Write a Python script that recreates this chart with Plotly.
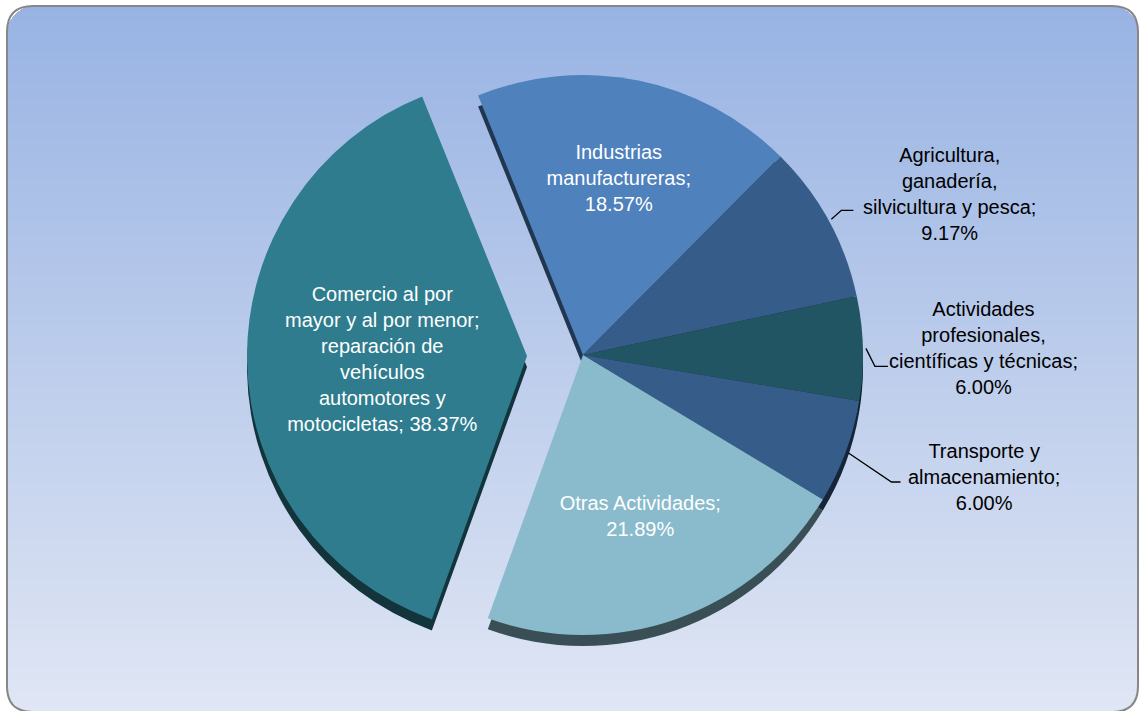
import math, zlib, struct, base64
import plotly.graph_objects as go

# ---- data ----
labels = [
    "Industrias manufactureras",
    "Agricultura, ganadería, silvicultura y pesca",
    "Actividades profesionales, científicas y técnicas",
    "Transporte y almacenamiento",
    "Otras Actividades",
    "Comercio al por mayor y al por menor; reparación de vehículos automotores y motocicletas",
]
values = [18.57, 9.17, 6.00, 6.00, 21.89, 38.37]
label_lines = [
    "Industrias<br>manufactureras;",
    "Agricultura,<br>ganadería,<br>silvicultura y pesca;",
    "Actividades<br>profesionales,<br>científicas y técnicas;",
    "Transporte y<br>almacenamiento;",
    "Otras Actividades;",
    "Comercio al por<br>mayor y al por menor;<br>reparación de<br>vehículos<br>automotores y<br>motocicletas;",
]
value_sep = ["<br>", "<br>", "<br>", "<br>", "<br>", " "]
colors = ["#4F81BD", "#365C8A", "#215563", "#365C8A", "#89BBCC", "#2E7C8E"]
pulls = [0, 0, 0, 0, 0, 0.2]
outside = [False, True, True, True, False, False]

# styling for outside labels: text offset (px) from slice edge, and leader elbow/end offsets
label_dx = [0, 118, 118, 136, 0, 0]
label_dy = [0, -25, 0, 24, 0, 0]
elbow = [None, (10, -9), (9, 18), (43, 29), None, None]
lead_end = [None, (22, -9), (22, 18), (52, 29), None, None]

W, H = 1141, 711
FONT = "Liberation Sans, Arial"
FS = 20

# ---- background gradient image with rounded corners ----
def make_bg(w, h, x0, y0, x1, y1, rad, top, bot):
    rows = []
    for y in range(h):
        t = min(max((y - y0) / (y1 - y0), 0), 1)
        c = bytes(int(round(top[i] + (bot[i] - top[i]) * t)) for i in range(3))
        row = bytearray(b"\x00")
        for x in range(w):
            inside = x0 <= x <= x1 and y0 <= y <= y1
            if inside:
                cx = None
                if x < x0 + rad and y < y0 + rad:
                    cx, cy = x0 + rad, y0 + rad
                elif x > x1 - rad and y < y0 + rad:
                    cx, cy = x1 - rad, y0 + rad
                elif x < x0 + rad and y > y1 - rad:
                    cx, cy = x0 + rad, y1 - rad
                elif x > x1 - rad and y > y1 - rad:
                    cx, cy = x1 - rad, y1 - rad
                if cx is not None and (x - cx) ** 2 + (y - cy) ** 2 > rad ** 2:
                    inside = False
            row += c if inside else b"\xff\xff\xff"
        rows.append(bytes(row))
    raw = b"".join(rows)
    def chunk(tag, data):
        return struct.pack(">I", len(data)) + tag + data + struct.pack(">I", zlib.crc32(tag + data) & 0xffffffff)
    png = b"\x89PNG\r\n\x1a\n" + chunk(b"IHDR", struct.pack(">IIBBBBB", w, h, 8, 2, 0, 0, 0))
    png += chunk(b"IDAT", zlib.compress(raw, 9)) + chunk(b"IEND", b"")
    return "data:image/png;base64," + base64.b64encode(png).decode()

bx0, by0, bx1, by1, rad = 7, 6, 1138, 712, 26
bg = make_bg(W, H, bx0, by0, bx1, by1, rad, (152, 179, 227), (224, 230, 244))

def darker(hexc, f=0.42):
    r, g, b = int(hexc[1:3], 16), int(hexc[3:5], 16), int(hexc[5:7], 16)
    return f"rgb({int(r*f)},{int(g*f)},{int(b*f)})"

# pie geometry (pixels)
cxp, cyp = 583, 355
R = 280
maxpull = max(pulls)
half = R * (1 + maxpull)
dom_x = [(cxp - half) / W, (cxp + half) / W]
dom_y = [1 - (cyp + half) / H, 1 - (cyp - half) / H]
depth = 11
dom_y_sh = [dom_y[0] - depth / H, dom_y[1] - depth / H]
rot = -22

texts = [l + s + f"{v:.2f}%" if not o else "" for l, s, v, o in zip(label_lines, value_sep, values, outside)]

fig = go.Figure()
# "3D" thickness: a darker copy, shifted down
fig.add_trace(go.Pie(
    labels=labels, values=values, sort=False, direction="clockwise", rotation=rot,
    pull=pulls, marker=dict(colors=[darker(c) for c in colors], line=dict(width=0)),
    textinfo="none", hoverinfo="skip", showlegend=False,
    domain=dict(x=dom_x, y=dom_y_sh),
))
fig.add_trace(go.Pie(
    labels=labels, values=values, text=texts, textinfo="text",
    textposition=["none" if o else "inside" for o in outside],
    sort=False, direction="clockwise", rotation=rot, pull=pulls,
    marker=dict(colors=colors, line=dict(width=0)),
    insidetextfont=dict(color="white", size=FS, family=FONT),
    insidetextorientation="horizontal",
    showlegend=False, hoverinfo="label+value",
    domain=dict(x=dom_x, y=dom_y),
))

def px(x, y):
    return x / W, 1 - y / H

# outside labels with leader lines, anchored at each slice's mid-angle
total = sum(values)
acc = 0.0
annotations, leaders = [], []
for i, v in enumerate(values):
    mid = rot + (acc + v / 2) / total * 360
    acc += v
    if not outside[i]:
        continue
    a = math.radians(mid)
    ex = cxp + (R + 3) * math.sin(a)
    ey = cyp - (R + 3) * math.cos(a)
    tx, ty = px(ex, ey)
    annotations.append(dict(
        x=tx, y=ty, xref="paper", yref="paper", showarrow=False,
        xshift=label_dx[i], yshift=-label_dy[i], xanchor="center", yanchor="middle",
        text=f"{label_lines[i]}<br>{values[i]:.2f}%",
        font=dict(color="black", size=FS, family=FONT), align="center",
    ))
    p0 = px(ex, ey)
    p1 = px(ex + elbow[i][0], ey + elbow[i][1])
    p2 = px(ex + lead_end[i][0], ey + lead_end[i][1])
    leaders.append(dict(
        type="path", xref="paper", yref="paper",
        path=f"M {p0[0]:.5f},{p0[1]:.5f} L {p1[0]:.5f},{p1[1]:.5f} L {p2[0]:.5f},{p2[1]:.5f}",
        line=dict(color="black", width=1.3),
    ))

def rr_path(x0, y0, x1, y1, r):
    def p(x, y):
        return f"{x / W:.5f},{1 - y / H:.5f}"
    return (f"M {p(x0 + r, y0)} L {p(x1 - r, y0)} Q {p(x1, y0)} {p(x1, y0 + r)} "
            f"L {p(x1, y1 - r)} Q {p(x1, y1)} {p(x1 - r, y1)} L {p(x0 + r, y1)} "
            f"Q {p(x0, y1)} {p(x0, y1 - r)} L {p(x0, y0 + r)} Q {p(x0, y0)} {p(x0 + r, y0)} Z")

fig.update_layout(
    width=W, height=H,
    margin=dict(l=0, r=0, t=0, b=0, autoexpand=False),
    paper_bgcolor="white",
    plot_bgcolor="rgba(0,0,0,0)",
    images=[dict(source=bg, xref="paper", yref="paper", x=0, y=1, sizex=1, sizey=1,
                 sizing="stretch", xanchor="left", yanchor="top", layer="below")],
    shapes=[dict(type="path", xref="paper", yref="paper", path=rr_path(bx0, by0, bx1, by1, rad),
                 line=dict(color="#878787", width=2), fillcolor="rgba(0,0,0,0)")] + leaders,
    annotations=annotations,
)

fig.write_html("out.html", config={"displayModeBar": False},
               post_script="document.body.style.margin='0';document.body.style.overflow='hidden';")
